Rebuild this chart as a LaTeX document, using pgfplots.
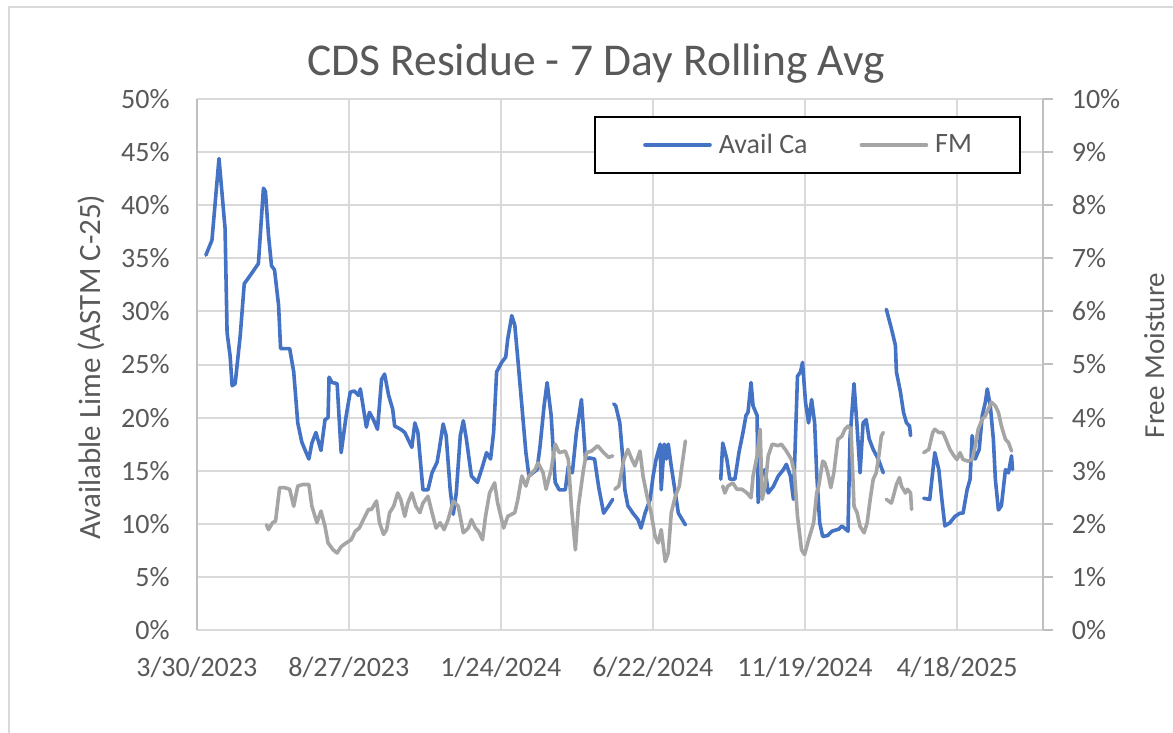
\documentclass[border=0pt]{standalone}
\usepackage{fontspec}
\setmainfont{Carlito}
\usepackage{pgfplots}
\pgfplotsset{compat=1.18}
\definecolor{excelblue}{HTML}{4472C4}
\definecolor{excelgray}{HTML}{A5A5A5}
\definecolor{gridgray}{HTML}{D9D9D9}
\definecolor{axisgray}{HTML}{BFBFBF}
\definecolor{textgray}{HTML}{595959}

\begin{document}
\begin{tikzpicture}
\path[use as bounding box] (-98.4pt,-51.5pt) rectangle (488.1pt,315pt);
\draw[gridgray, line width=1pt] (-93.9pt,-51.5pt) -- (-93.9pt,311.5pt) -- (488.1pt,311.5pt);

\pgfplotsset{
  cdsbase/.style={
    at={(0pt,0pt)}, anchor=south west,
    scale only axis, width=423pt, height=265.5pt,
    xmin=-1, xmax=837,
    unbounded coords=jump,
    ticklabel style={font=\fontsize{14}{16}\selectfont, text=textgray, inner sep=0pt},
  },
}

% primary axis: available lime
\begin{axis}[
  cdsbase,
  ymin=0, ymax=50,
  separate axis lines,
  x axis line style={draw=gridgray, line width=1pt},
  y axis line style={draw=axisgray, line width=1pt},
  xtick={-1,149.6,300.2,450.8,601.4,752},
  xticklabels={3/30/2023,8/27/2023,1/24/2024,6/22/2024,11/19/2024,4/18/2025},
  ytick={0,5,...,50},
  yticklabels={0\%,5\%,10\%,15\%,20\%,25\%,30\%,35\%,40\%,45\%,50\%},
  major tick length=0pt,
  xmajorgrids, ymajorgrids,
  grid style={draw=gridgray, line width=1pt},
  xticklabel style={anchor=base, yshift=-23.35pt},
  yticklabel style={anchor=east, xshift=-13.4pt},
]
\addplot[excelblue, line width=1.8pt, line join=round, line cap=round] coordinates {
(8,35.3) (14,36.7) (21,44.4) (27,37.8) (29,28.0) (32,25.8) (34,23.0) (37,23.2)
(42,27.7) (46,32.6) (52,33.4) (60,34.5) (65,41.6) (67,41.3) (70,37.2) (73,34.3)
(76,33.9) (80,30.6) (82,26.5) (91,26.5) (95,24.3) (99,19.5) (103,17.7) (106,17.0)
(110,16.1) (113,17.6) (117,18.6) (122,16.9) (126,19.8) (129,20.0) (130,23.8) (133,23.3)
(138,23.2) (142,16.7) (147,20.2) (151,22.4) (155,22.5) (159,22.1) (161,22.7) (167,19.1)
(170,20.5) (174,19.8) (178,18.9) (182,23.6) (185,24.1) (189,22.1) (193,20.8) (195,19.2)
(201,18.9) (205,18.6) (208,18.0) (212,17.2) (215,19.5) (218,18.6) (223,13.2) (228,13.2)
(232,14.8) (237,15.8) (239,16.9) (243,19.4) (246,18.3) (250,13.2) (253,10.9) (256,12.9)
(260,18.3) (263,19.7) (266,18.0) (271,14.5) (277,13.9) (282,15.4) (286,16.7) (290,16.1)
(293,18.6) (296,24.3) (301,25.2) (305,25.7) (307,27.4) (311,29.6) (314,28.7) (317,25.5)
(321,21.1) (325,16.7) (328,14.5) (332,14.8) (336,15.1) (339,17.3) (343,21.1) (346,23.3)
(350,20.2) (354,13.9) (358,13.2) (364,13.2) (367,15.4) (371,14.8) (375,18.6) (380,21.7)
(384,16.1) (388,16.2) (393,16.1) (397,13.5) (402,11.0) (407,11.7) (411,12.3)
(411.5,nan)
(412,21.3) (414,21.1) (418,19.5) (421,16.1) (423,13.2) (426,11.7) (431,11.0) (436,10.4)
(439,9.6) (443,11.0) (448,12.3) (451,14.5) (454,16.1) (458,17.5) (459,13.2) (462,17.5)
(464,16.1) (466,17.5) (469,15.4) (473,12.9) (476,11.0) (483,9.9)
(500,nan)
(518,14.2) (520,17.6) (524,16.1) (527,14.2) (532,14.2) (536,16.7) (540,18.6) (543,20.2)
(545,20.5) (548,23.3) (550,21.1) (554,20.2) (555,12.0) (559,14.8) (562,15.1) (565,12.9)
(570,13.5) (575,14.5) (580,15.1) (583,15.6) (587,14.5) (590,12.3) (594,23.9) (597,24.3)
(599,25.2) (602,21.4) (605,19.5) (608,21.7) (611,19.5) (613,14.8) (616,10.1) (619,8.8)
(624,8.9) (628,9.3) (635,9.5) (638,9.8) (644,9.3) (646,18.0) (650,23.2) (653,19.2)
(656,14.8) (659,19.5) (662,19.8) (665,18.0) (669,17.0) (674,16.1) (679,14.8)
(680,nan)
(682,30.2) (687,28.4) (691,26.8) (692,24.3) (696,22.4) (699,20.5) (702,19.5) (705,19.2) (706,18.3)
(712,nan)
(719,12.4) (725,12.3) (730,16.7) (734,15.1) (737,12.3) (740,9.8) (745,10.1) (750,10.7)
(755,11.0) (758,11.0) (762,13.2) (765,14.2) (767,18.3) (770,16.1) (774,17.0) (777,20.2)
(780,21.4) (782,22.7) (785,21.1) (788,18.0) (790,14.2) (793,11.3) (796,11.7) (800,15.1)
(803,14.8) (806,16.4) (807,15.1)
};
\end{axis}

% secondary axis: free moisture
\begin{axis}[
  cdsbase,
  ymin=0, ymax=10,
  axis x line=none,
  axis y line*=right,
  y axis line style={draw=axisgray, line width=1pt},
  ytick={0,1,...,10},
  yticklabels={0\%,1\%,2\%,3\%,4\%,5\%,6\%,7\%,8\%,9\%,10\%},
  tick align=outside,
  major tick length=5pt,
  ytick style={draw=axisgray, line width=1pt},
  yticklabel style={anchor=west, xshift=9.3pt},
  legend columns=2,
  legend image code/.code={\draw[#1] (0pt,0pt) -- (32.5pt,0pt);},
  legend style={
    at={(0.722,0.9134)}, anchor=center,
    draw=black, line width=1pt, fill=white,
    inner xsep=24pt, inner ysep=8.5pt,
    nodes={inner sep=0pt, text=textgray, font=\fontsize{14}{16}\selectfont},
    /tikz/every odd column/.append style={column sep=3.5pt},
    /tikz/every even column/.append style={column sep=26pt},
  },
]
\addlegendimage{excelblue, line width=1.8pt, line cap=round}
\addlegendentry{Avail Ca}
\addplot[excelgray, line width=1.8pt, line join=round, line cap=round] coordinates {
(68,1.98) (70,1.89) (74,2.02) (77,2.05) (81,2.68) (86,2.68) (91,2.65) (95,2.33)
(99,2.71) (104,2.74) (110,2.74) (113,2.33) (118,2.02) (122,2.24) (126,1.95) (129,1.64)
(134,1.51) (138,1.45) (142,1.57) (147,1.64) (152,1.70) (156,1.86) (160,1.92) (164,2.08)
(169,2.27) (172,2.27) (177,2.43) (180,2.02) (184,1.80) (187,1.89) (190,2.21) (194,2.33)
(198,2.58) (201,2.46) (205,2.14) (208,2.39) (212,2.58) (216,2.33) (220,2.21) (223,2.39)
(228,2.52) (232,2.21) (236,1.92) (240,2.02) (244,1.89) (248,2.08) (253,2.43) (258,2.33)
(263,1.83) (268,1.92) (271,2.08) (275,1.92) (278,1.86) (282,1.70) (285,2.14) (289,2.58)
(294,2.77) (297,2.39) (303,1.92) (307,2.14) (314,2.21) (317,2.46) (321,2.90) (325,2.71)
(328,2.90) (334,3.02) (337,3.15) (342,2.96) (345,2.65) (350,3.02) (354,3.50) (358,3.34)
(364,3.37) (367,3.21) (370,2.33) (374,1.51) (377,2.33) (382,3.02) (385,3.34) (390,3.37)
(396,3.47) (402,3.34) (407,3.25) (411,3.28)
(412,nan)
(413,2.65) (417,2.71) (422,3.21) (426,3.40) (430,3.21) (433,3.09) (438,3.37) (441,2.90)
(445,2.52) (449,2.21) (453,1.76) (456,1.64) (459,1.89) (463,1.29) (466,1.45) (469,2.21)
(473,2.52) (477,2.71) (479,3.02) (483,3.56)
(500,nan)
(520,2.71) (522,2.58) (525,2.71) (530,2.77) (534,2.65) (539,2.65) (544,2.58) (548,2.49)
(550,2.90) (554,3.28) (557,3.78) (559,2.46) (562,2.71) (565,3.28) (569,3.50) (575,3.47)
(578,3.50) (583,3.37) (588,3.21) (591,2.96) (594,2.14) (598,1.51) (601,1.42) (605,1.70)
(610,2.02) (613,2.58) (615,2.71) (619,3.18) (621,3.15) (624,2.96) (627,2.68) (630,2.96)
(634,3.59) (638,3.65) (641,3.78) (644,3.84) (647,3.78) (650,2.33) (653,2.21) (656,1.95)
(660,1.83) (663,2.02) (666,2.46) (669,2.84) (672,2.96) (675,3.34) (677,3.65) (679,3.72)
(680,nan)
(682,2.46) (687,2.39) (689,2.52) (692,2.74) (695,2.87) (697,2.71) (701,2.58) (703,2.65)
(706,2.58) (707,2.27)
(712,nan)
(719,3.34) (724,3.40) (728,3.72) (730,3.78) (734,3.72) (738,3.72) (741,3.59) (745,3.40)
(749,3.28) (752,3.21) (755,3.34) (758,3.21) (763,3.18) (767,3.21) (770,3.46) (773,3.78)
(777,3.97) (780,4.03) (783,4.16) (786,4.29) (790,4.22) (793,4.10) (796,3.84) (800,3.59)
(803,3.53) (806,3.37)
};
\addlegendentry{FM}
\end{axis}

\node[font=\fontsize{22.75}{26}\selectfont, text=textgray, anchor=base]
  at (199.6pt,277pt) {CDS Residue - 7 Day Rolling Avg};
\node[rotate=90, anchor=base, font=\fontsize{15.5}{18}\selectfont, text=textgray]
  at (-47.9pt,131.5pt) {Available Lime (ASTM C-25)};
\node[rotate=90, anchor=base, font=\fontsize{14.5}{17}\selectfont, text=textgray]
  at (483.6pt,137.25pt) {Free Moisture};
\end{tikzpicture}
\end{document}
